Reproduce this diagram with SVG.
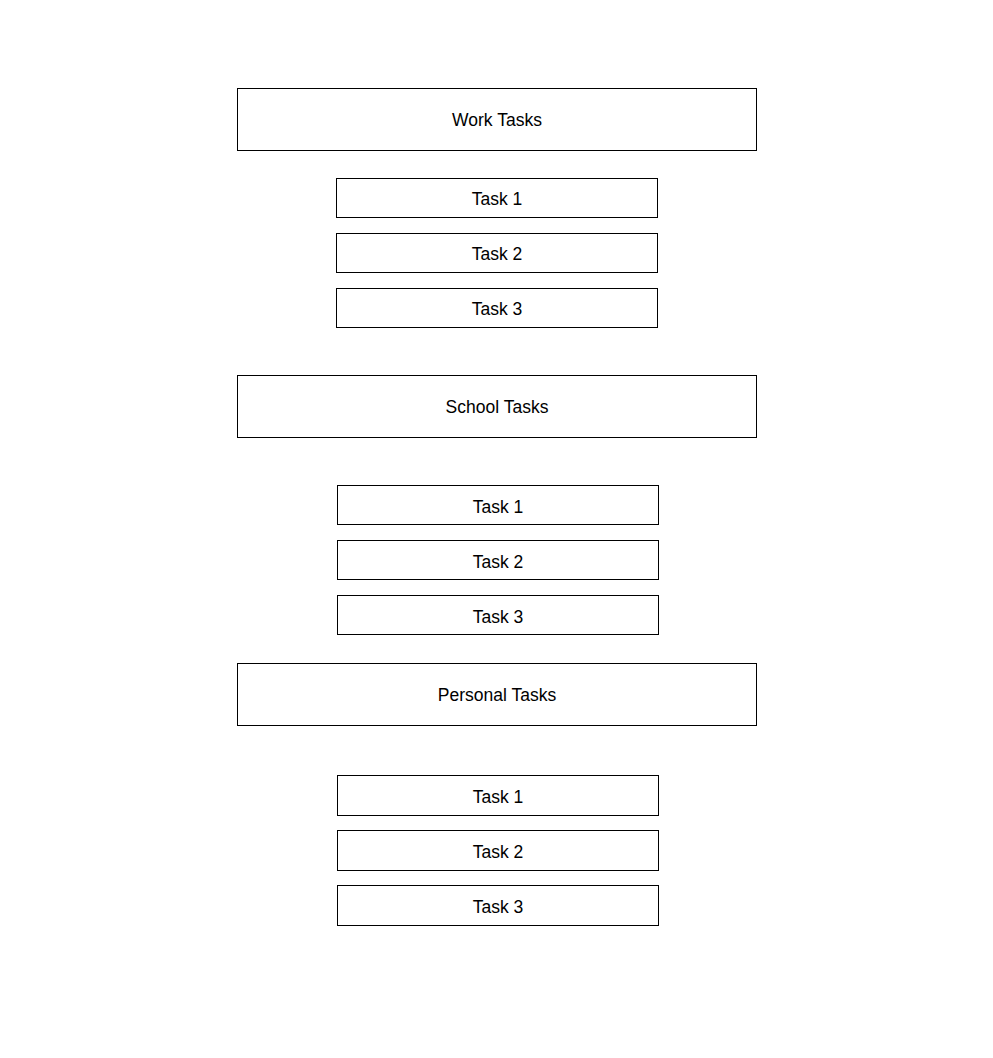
<svg xmlns="http://www.w3.org/2000/svg" width="993" height="1058" viewBox="0 0 993 1058">
<style>
rect{fill:#fff;stroke:#000;stroke-width:1}
text{font-family:"Liberation Sans",Arial,sans-serif;font-size:17.5px;fill:#000;text-anchor:middle;dominant-baseline:central}
</style>
<rect x="0" y="0" width="993" height="1058" style="stroke:none"/>
<g id="work"><rect x="237.5" y="88.5" width="519" height="62"/><text x="497" y="119.5">Work Tasks</text></g>
<g id="w1"><rect x="336.5" y="178.5" width="321" height="39"/><text x="497" y="198.5">Task 1</text></g>
<g id="w2"><rect x="336.5" y="233.5" width="321" height="39"/><text x="497" y="253.5">Task 2</text></g>
<g id="w3"><rect x="336.5" y="288.5" width="321" height="39"/><text x="497" y="308.5">Task 3</text></g>
<g id="school"><rect x="237.5" y="375.5" width="519" height="62"/><text x="497" y="406.5">School Tasks</text></g>
<g id="s1"><rect x="337.5" y="485.5" width="321" height="39"/><text x="498" y="506.5">Task 1</text></g>
<g id="s2"><rect x="337.5" y="540.5" width="321" height="39"/><text x="498" y="561.5">Task 2</text></g>
<g id="s3"><rect x="337.5" y="595.5" width="321" height="39"/><text x="498" y="616.5">Task 3</text></g>
<g id="personal"><rect x="237.5" y="663.5" width="519" height="62"/><text x="497" y="694.5">Personal Tasks</text></g>
<g id="p1"><rect x="337.5" y="775.5" width="321" height="40"/><text x="498" y="796.5">Task 1</text></g>
<g id="p2"><rect x="337.5" y="830.5" width="321" height="40"/><text x="498" y="851.5">Task 2</text></g>
<g id="p3"><rect x="337.5" y="885.5" width="321" height="40"/><text x="498" y="906.5">Task 3</text></g>
<g id="connectors"></g>
</svg>
